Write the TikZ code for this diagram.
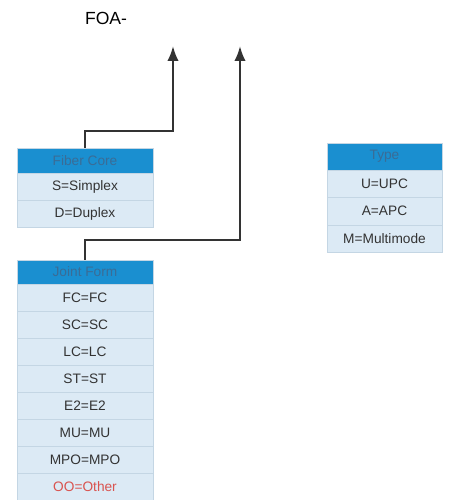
\documentclass[tikz,border=0pt]{standalone}
\usepackage{fontspec}
\setmainfont{Liberation Sans}
\usetikzlibrary{arrows.meta}
\definecolor{hdrblue}{HTML}{1A8FD0}
\definecolor{hdrtext}{HTML}{3A6C96}
\definecolor{cellblue}{HTML}{DCEAF5}
\definecolor{celledge}{HTML}{C4D6E4}
\definecolor{otherred}{HTML}{D9534F}
\definecolor{wire}{HTML}{333333}

\begin{document}
\begin{tikzpicture}[x=0.02cm,y=-0.02cm,
  hdr/.style={fill=hdrblue,draw=celledge,line width=0.3pt,text=hdrtext,inner sep=0pt,
    minimum width=2.72cm,minimum height=0.5cm,font=\fontsize{7.8}{9}\selectfont},
  cell/.style={fill=cellblue,draw=celledge,line width=0.3pt,text=black!80,inner sep=0pt,
    minimum width=2.72cm,minimum height=0.54cm,font=\fontsize{7.8}{9}\selectfont},
  conn/.style={draw=wire,line width=1.3pt,-{Latex[length=8.5pt,width=6.5pt]}}]
\useasboundingbox (0,0) rectangle (450,500);
\fill[white] (0,0) rectangle (450,500);
\node[font=\fontsize{10}{12}\selectfont] (code) at (106,18) {FOA-};
% fiber core
\node[hdr] (fc) at (85,160.5) {Fiber Core};
\node[cell] (fc1) at (85,186.5) {S=Simplex};
\node[cell] (fc2) at (85,213.5) {D=Duplex};
% joint form
\node[hdr,minimum height=0.48cm] (jf) at (85,272) {Joint Form};
\node[cell] (jf1) at (85,297.5) {FC=FC};
\node[cell] (jf2) at (85,324.5) {SC=SC};
\node[cell] (jf3) at (85,351.5) {LC=LC};
\node[cell] (jf4) at (85,378.5) {ST=ST};
\node[cell] (jf5) at (85,405.5) {E2=E2};
\node[cell] (jf6) at (85,432.5) {MU=MU};
\node[cell] (jf7) at (85,459.5) {MPO=MPO};
\node[cell,text=otherred] (jf8) at (85,486.5) {OO=Other};
% type
\node[hdr,minimum width=2.3cm,minimum height=0.54cm] (ty) at (384.5,156.5) {Type};
\node[cell,minimum width=2.3cm,minimum height=0.55cm] (ty1) at (384.5,183.75) {U=UPC};
\node[cell,minimum width=2.3cm,minimum height=0.55cm] (ty2) at (384.5,211.25) {A=APC};
\node[cell,minimum width=2.3cm,minimum height=0.55cm] (ty3) at (384.5,238.75) {M=Multimode};
% arrows
\coordinate (kneeA) at (173,131);
\coordinate (tipA) at (173,46);
\coordinate (kneeB) at (240,240);
\coordinate (tipB) at (240,46);
\draw[conn] (fc.north) |- (kneeA) -- (tipA);
\draw[conn] (jf.north) |- (kneeB) -- (tipB);
\end{tikzpicture}
\end{document}
